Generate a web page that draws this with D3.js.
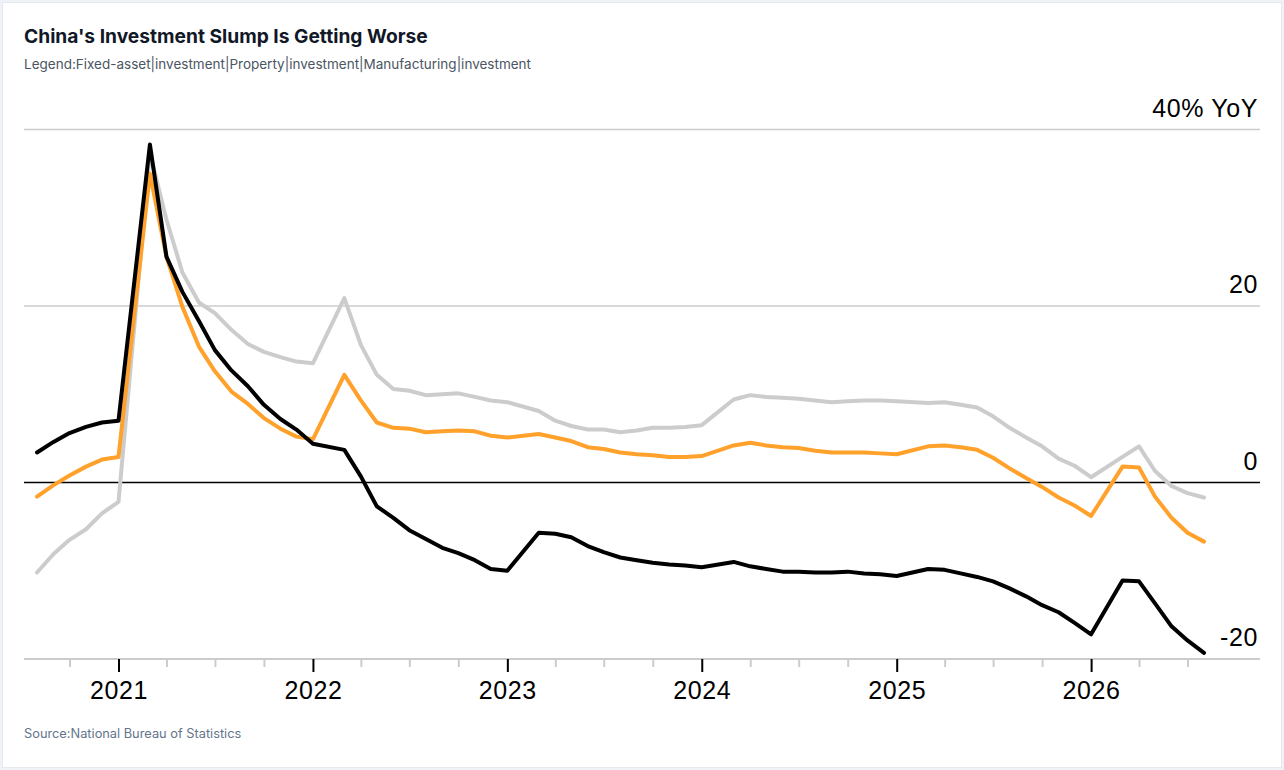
<!DOCTYPE html>
<html>
<head>
<meta charset="utf-8">
<script src="https://cdn.jsdelivr.net/npm/d3@7"></script>
<style>
  html, body { margin: 0; padding: 0; background: #eff3f7; }
  #card {
    position: absolute; left: 2px; top: 2px; width: 1278px; height: 764px;
    background: #fff; border: 1px solid #e6eaef;
  }
  svg { position: absolute; left: -3px; top: -3px; }
</style>
</head>
<body>
<div id="card"><svg id="chart"></svg></div>
<script>
const months = [
  '2020-07','2020-08','2020-09','2020-10','2020-11','2020-12',
  '2021-02','2021-03','2021-04','2021-05','2021-06','2021-07','2021-08','2021-09','2021-10','2021-11','2021-12',
  '2022-02','2022-03','2022-04','2022-05','2022-06','2022-07','2022-08','2022-09','2022-10','2022-11','2022-12',
  '2023-02','2023-03','2023-04','2023-05','2023-06','2023-07','2023-08','2023-09','2023-10','2023-11','2023-12',
  '2024-02','2024-03','2024-04','2024-05','2024-06','2024-07','2024-08','2024-09','2024-10','2024-11','2024-12',
  '2025-02','2025-03','2025-04','2025-05','2025-06','2025-07','2025-08','2025-09','2025-10','2025-11','2025-12',
  '2026-02','2026-03','2026-04','2026-05','2026-06','2026-07'
];

// fixed-asset investment, % YoY (ytd)
const fixedAsset = [
  -1.6, -0.3, 0.8, 1.8, 2.6, 2.9,
  35.0, 25.6, 19.9, 15.4, 12.6, 10.3, 8.9, 7.3, 6.1, 5.2, 4.9,
  12.2, 9.3, 6.8, 6.2, 6.1, 5.7, 5.8, 5.9, 5.8, 5.3, 5.1,
  5.5, 5.1, 4.7, 4.0, 3.8, 3.4, 3.2, 3.1, 2.9, 2.9, 3.0,
  4.2, 4.5, 4.2, 4.0, 3.9, 3.6, 3.4, 3.4, 3.4, 3.3, 3.2,
  4.1, 4.2, 4.0, 3.7, 2.8, 1.6, 0.5, -0.5, -1.7, -2.6, -3.8,
  1.8, 1.7, -1.6, -4.0, -5.7, -6.7
];

const property = [
  3.4, 4.6, 5.6, 6.3, 6.8, 7.0,
  38.3, 25.6, 21.6, 18.3, 15.0, 12.7, 10.9, 8.8, 7.2, 6.0, 4.4,
  3.7, 0.7, -2.7, -4.0, -5.4, -6.4, -7.4, -8.0, -8.8, -9.8, -10.0,
  -5.7, -5.8, -6.2, -7.2, -7.9, -8.5, -8.8, -9.1, -9.3, -9.4, -9.6,
  -9.0, -9.5, -9.8, -10.1, -10.1, -10.2, -10.2, -10.1, -10.3, -10.4, -10.6,
  -9.8, -9.9, -10.3, -10.7, -11.2, -12.0, -12.9, -13.9, -14.7, -15.9, -17.2,
  -11.1, -11.2, -13.7, -16.3, -17.9, -19.3
];

const manufacturing = [
  -10.2, -8.1, -6.5, -5.3, -3.5, -2.2,
  37.3, 29.8, 23.8, 20.4, 19.2, 17.3, 15.7, 14.8, 14.2, 13.7, 13.5,
  20.9, 15.6, 12.2, 10.6, 10.4, 9.9, 10.0, 10.1, 9.7, 9.3, 9.1,
  8.1, 7.0, 6.4, 6.0, 6.0, 5.7, 5.9, 6.2, 6.2, 6.3, 6.5,
  9.4, 9.9, 9.7, 9.6, 9.5, 9.3, 9.1, 9.2, 9.3, 9.3, 9.2,
  9.0, 9.1, 8.8, 8.5, 7.5, 6.2, 5.1, 4.1, 2.7, 1.9, 0.6,
  2.9, 4.1, 1.3, -0.4, -1.2, -1.7
];

const yTicks = [40, 20, 0, -20];
const yTickLabels = ['40% YoY', '20', '0', '-20'];
const legendNames = ['Fixed-asset', 'investment', 'Property', 'investment', 'Manufacturing', 'investment'];

const width = 1284, height = 770;
const svg = d3.select('#chart').attr('width', width).attr('height', height);

// each reading is for the month's end
const parseMonth = d3.timeParse('%Y-%m');
const dates = months.map(m => d3.timeDay.offset(d3.timeMonth.offset(parseMonth(m), 1), -1));

const x = d3.scaleTime().domain(d3.extent(dates)).range([37, 1204]);
const y = d3.scaleLinear().domain([-20, 40]).range([659, 129.5]);
const gridLeft = 24, gridRight = 1260;
const uiFont = 'Inter, "Noto Sans", sans-serif';
const axisFont = '"Liberation Sans", Arial, sans-serif';

svg.append('text')
  .attr('x', 24).attr('y', 43)
  .style('font-family', uiFont)
  .style('font-weight', 700).style('font-size', '19.2px')
  .attr('fill', '#111827')
  .text("China's Investment Slump Is Getting Worse");

svg.append('text')
  .attr('x', 24).attr('y', 69)
  .style('font-family', uiFont)
  .style('font-size', '13.5px')
  .attr('fill', '#4b5563')
  .text('Legend:' + legendNames.join('|'));

svg.append('text')
  .attr('x', 24).attr('y', 738)
  .style('font-family', uiFont)
  .style('font-size', '12.8px')
  .attr('fill', '#64748b')
  .text('Source:National Bureau of Statistics');

// horizontal grid
svg.append('g').selectAll('line')
  .data(yTicks)
  .join('line')
  .attr('x1', gridLeft).attr('x2', gridRight)
  .attr('y1', d => y(d)).attr('y2', d => y(d))
  .attr('stroke', d => d === 0 ? '#000' : '#cccccc')
  .attr('stroke-width', d => d === -20 ? 2 : 1.5);

svg.append('g').selectAll('text')
  .data(yTicks)
  .join('text')
  .attr('x', 1258).attr('y', d => y(d) - 13)
  .attr('text-anchor', 'end')
  .style('font-family', axisFont)
  .style('font-size', '25px')
  .style('letter-spacing', '0.6px')
  .attr('fill', '#000')
  .text((d, i) => yTickLabels[i]);

// x axis ticks: quarters grey, years black
const quarters = d3.timeMonth.every(3).range(x.domain()[0], x.domain()[1]);
const years = quarters.filter(d => d.getMonth() === 0);

svg.append('g').selectAll('line')
  .data(quarters.filter(d => d.getMonth() !== 0))
  .join('line')
  .attr('x1', d => x(d)).attr('x2', d => x(d))
  .attr('y1', y(-20)).attr('y2', y(-20) + 8)
  .attr('stroke', '#cccccc').attr('stroke-width', 2);

svg.append('g').selectAll('line')
  .data(years)
  .join('line')
  .attr('x1', d => x(d)).attr('x2', d => x(d))
  .attr('y1', y(-20)).attr('y2', y(-20) + 13)
  .attr('stroke', '#000').attr('stroke-width', 2);

svg.append('g').selectAll('text')
  .data(years)
  .join('text')
  .attr('x', d => x(d)).attr('y', 699)
  .attr('text-anchor', 'middle')
  .style('font-family', axisFont)
  .style('font-size', '25px')
  .style('letter-spacing', '0.6px')
  .attr('fill', '#000')
  .text(d => d3.timeFormat('%Y')(d));

// lines
const line = d3.line()
  .x((d, i) => x(dates[i]))
  .y(d => y(d));

const series = [
  { values: manufacturing, color: '#cccccc' },
  { values: fixedAsset, color: '#ffa12b' },
  { values: property, color: '#000000' }
];

svg.append('g').selectAll('path')
  .data(series)
  .join('path')
  .attr('d', d => line(d.values))
  .attr('fill', 'none')
  .attr('stroke', d => d.color)
  .attr('stroke-width', 4)
  .attr('stroke-linejoin', 'round')
  .attr('stroke-linecap', 'round');
</script>
</body>
</html>
